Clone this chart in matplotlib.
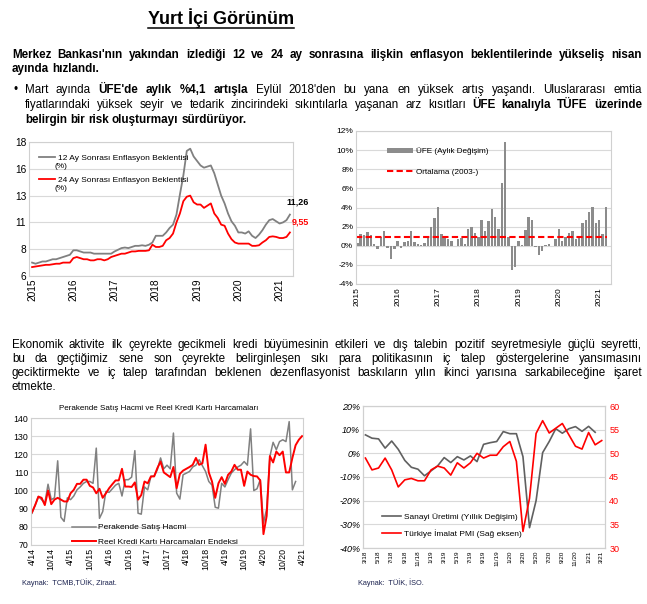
import numpy as np
import matplotlib
matplotlib.use('Agg')
import matplotlib.pyplot as plt
from matplotlib.lines import Line2D

# ---- data ----
# 12 / 24 ay sonrasi enflasyon beklentisi, Oca 2015 - Nis 2021 (aylik)
exp12 = [7.2, 7.1, 7.2, 7.3, 7.3, 7.4, 7.5, 7.5, 7.6, 7.7, 7.8, 7.9,
         8.3, 8.3, 8.2, 8.1, 8.1, 8.1, 8.0, 8.0, 8.0, 8.0, 8.0, 8.0,
         8.2, 8.35, 8.5, 8.55, 8.5, 8.6, 8.7, 8.7, 8.75, 8.7, 8.8, 9.0,
         9.6, 9.6, 9.6, 9.9, 10.3, 10.6, 11.5, 13.3, 15.0, 17.2, 17.4, 16.7,
         16.3, 15.9, 15.7, 15.8, 15.9, 15.2, 14.2, 13.2, 12.5, 11.6, 10.9, 10.5,
         9.9, 9.9, 9.8, 10.0, 9.6, 9.4, 9.7, 10.1, 10.6, 11.0, 11.1, 10.9,
         10.7, 10.8, 11.0, 11.5]
exp24 = [6.8, 6.85, 6.9, 6.95, 7.0, 7.0, 7.05, 7.1, 7.1, 7.2, 7.2, 7.2,
         7.6, 7.7, 7.6, 7.5, 7.5, 7.4, 7.4, 7.5, 7.5, 7.4, 7.5, 7.7,
         7.8, 7.9, 8.0, 8.0, 8.1, 8.2, 8.2, 8.25, 8.25, 8.25, 8.3, 8.8,
         8.6, 8.6, 8.7, 9.2, 9.4, 9.8, 10.8, 11.6, 12.7, 13.1, 13.2, 12.6,
         12.4, 12.4, 12.1, 12.3, 12.5, 11.6, 11.2, 10.6, 10.5, 9.8, 9.3, 9.0,
         8.9, 8.9, 8.9, 8.9, 8.7, 8.7, 8.75, 9.0, 9.2, 9.5, 9.55, 9.5,
         9.4, 9.4, 9.5, 9.9]
years = ['2015', '2016', '2017', '2018', '2019', '2020', '2021']
exp_ticks = ['6', '8', '11', '13', '16', '18']

# UFE aylik degisim, Oca 2015 - Mar 2021
ufe = [0.3, 1.2, 1.1, 1.4, 1.1, 0.2, -0.3, 0.9, 1.5, -0.2, -1.4, -0.3,
       0.5, -0.2, 0.4, 0.5, 1.5, 0.4, 0.2, 0.05, 0.3, 0.8, 2.0, 2.9,
       4.1, 1.2, 1.0, 0.7, 0.5, -0.05, 0.7, 0.8, 0.2, 1.7, 2.0, 1.3,
       0.9, 2.7, 1.5, 2.6, 3.8, 3.0, 1.7, 6.6, 10.9, 0.9, -2.5, -2.2,
       0.45, 0.1, 1.6, 3.0, 2.7, -0.1, -1.0, -0.6, 0.13, 0.14, -0.05, 0.7,
       1.8, 0.5, 0.9, 1.3, 1.5, 0.7, 0.85, 2.35, 2.65, 3.55, 4.1, 2.35,
       2.65, 1.2, 4.1]
ufe_avg = 0.9

# Perakende satis hacmi (Nis 2014 - Sub 2021) ve reel kredi karti (Nis 2014 - Nis 2021)
retail = [87.5, 92, 96.7, 95, 93, 103.5, 95, 96, 116.4, 85.3, 83, 96,
          95, 97, 100.4, 102, 104, 105, 105, 104, 123.4, 84.7, 88.4, 99.5,
          99, 101, 103, 104, 97, 106, 106, 107.4, 122, 87.5, 87, 102,
          100.4, 107.8, 108, 111.5, 118, 112, 114, 112, 131.7, 98.6, 95.3, 108.7,
          109.6, 110.5, 113, 114, 117, 113.7, 110.5, 105, 103, 90.8, 90.3, 104,
          102, 106, 109.6, 111.5, 113, 114, 116, 114, 134, 100, 101, 106,
          82, 90, 118.8, 126.6, 122.5, 127, 128, 127, 138, 100.4, 105]
card = [88, 92, 96.7, 96, 92, 100, 92.5, 95, 96, 95, 94, 94,
        98.5, 100.4, 103.7, 103.7, 106, 106, 102.6, 101.7, 98.5, 101, 96, 98.5,
        101.3, 103.5, 105.6, 105.6, 112, 102.2, 102.2, 102, 104.5, 95, 97.6, 105,
        104, 107.8, 107.8, 112.4, 116, 110, 108.7, 107.4, 113, 101.3, 109.2, 111,
        112, 113, 114.2, 118, 114.2, 115, 125.3, 110, 105, 96, 104, 107.4,
        103.7, 108.7, 110.5, 114.2, 111.5, 111.5, 102.6, 110.5, 108.7, 108, 107.8, 105.6,
        76, 86, 119, 115.5, 121.5, 119.5, 121.5, 110, 110, 118, 125, 128, 130]
retail_ticks = ['4/14', '10/14', '4/15', '10/15', '4/16', '10/16', '4/17', '10/17',
                '4/18', '10/18', '4/19', '10/19', '4/20', '10/20', '4/21']

# Sanayi uretimi yillik % (Mar 2018 - Sub 2021) ve imalat PMI (Mar 2018 - Mar 2021)
ip = [7.8, 6.4, 6.1, 2.2, 5.2, 1.7, -3.0, -5.9, -6.7, -9.5, -7.4, -5.3,
      -1.8, -3.9, -1.4, -2.8, -1.1, -3.5, 3.8, 4.5, 5.0, 9.2, 8.3, 8.3,
      -1.4, -31.4, -20.0, 0.3, 5.0, 10.4, 8.5, 10.4, 11.3, 9.3, 11.4, 8.9]
pmi = [49.0, 46.5, 46.9, 49.0, 46.5, 42.9, 44.4, 44.7, 44.2, 44.2, 46.5, 47.3,
       46.9, 45.4, 48.0, 46.9, 48.0, 50.0, 49.0, 49.6, 49.6, 51.4, 52.5, 48.3,
       33.5, 40.5, 54.2, 56.9, 54.3, 55.3, 56.3, 53.9, 51.5, 50.9, 54.4, 51.8, 52.7]
ip_ticks = ['3/18', '5/18', '7/18', '9/18', '11/18', '1/19', '3/19', '5/19', '7/19', '9/19',
            '11/19', '1/20', '3/20', '5/20', '7/20', '9/20', '11/20', '1/21', '3/21']

GRAY = '#808080'
RED = '#ff0000'
GRID = '#d9d9d9'

plt.rcParams['font.family'] = ['Liberation Sans', 'DejaVu Sans']
body_size = 8.4

W, H = 647, 604
fig = plt.figure(figsize=(W / 100, H / 100), dpi=100)
renderer = fig.canvas.get_renderer()


def fx(x):
    return x / W


def fy(y):
    return 1 - y / H


def box(l, t, r, b):
    return [fx(l), fy(b), (r - l) / W, (b - t) / H]


def put_line(segs, x0, x1, y, size, justify=True):
    # kelime kelime yerlestir, iki yana yasla
    ws = []
    for txt, bold in segs:
        for w in txt.split():
            ws.append((w, bold))
    arts = [fig.text(0, fy(y), w, fontsize=size,
                     fontweight='bold' if b else 'normal', va='baseline') for w, b in ws]
    widths = [a.get_window_extent(renderer).width for a in arts]
    gap = size * 100 / 72 * 0.27
    if justify and len(arts) > 1:
        gap = max((x1 - x0 - sum(widths)) / (len(arts) - 1), 1.0)
    x = x0
    for a, w in zip(arts, widths):
        a.set_x(fx(x))
        x += w + gap


def style(ax, size):
    for s in ax.spines.values():
        s.set_color('#d0d0d0')
        s.set_linewidth(0.8)
    ax.grid(axis='y', color=GRID, lw=0.8)
    ax.set_axisbelow(True)
    ax.tick_params(length=0, labelsize=size, pad=2)


# ---- text ----
t = fig.text(fx(221), fy(24.5), 'Yurt İçi Görünüm', ha='center', va='baseline',
             fontsize=13, fontweight='bold')
bb = t.get_window_extent(renderer)
fig.add_artist(Line2D([bb.x0 / W, bb.x1 / W], [fy(27.5)] * 2, color='k', lw=1.1))

put_line([("Merkez Bankası'nın yakından izlediği 12 ve 24 ay sonrasına ilişkin enflasyon beklentilerinde yükseliş nisan", True)],
         12, 642, 58, body_size)
put_line([("ayında hızlandı.", True)], 12, 642, 72, body_size, justify=False)
fig.text(fx(14), fy(93), '•', fontsize=body_size, va='baseline')
put_line([("Mart ayında", False), ("ÜFE'de aylık %4,1 artışla", True),
          ("Eylül 2018'den bu yana en yüksek artış yaşandı. Uluslararası emtia", False)],
         25, 642, 93, body_size)
put_line([("fiyatlarındaki yüksek seyir ve tedarik zincirindeki sıkıntılarla yaşanan arz kısıtları", False),
          ("ÜFE kanalıyla TÜFE üzerinde", True)], 25, 642, 108, body_size)
put_line([("belirgin bir risk oluşturmayı sürdürüyor.", True)], 25, 642, 123, body_size, justify=False)

put_line([("Ekonomik aktivite ilk çeyrekte gecikmeli kredi büyümesinin etkileri ve dış talebin pozitif seyretmesiyle güçlü seyretti,", False)],
         12, 642, 348, body_size)
put_line([("bu da geçtiğimiz sene son çeyrekte belirginleşen sıkı para politikasının iç talep göstergelerine yansımasını", False)],
         12, 642, 362, body_size)
put_line([("geciktirmekte ve iç talep tarafından beklenen dezenflasyonist baskıların yılın ikinci yarısına sarkabileceğine işaret", False)],
         12, 642, 376, body_size)
put_line([("etmekte.", False)], 12, 642, 390, body_size, justify=False)

# ---- chart 1: enflasyon beklentileri ----
ax1 = fig.add_axes(box(29, 142, 293, 276))
m1 = np.arange(len(exp12))
ax1.plot(m1, exp12, color=GRAY, lw=1.3, label='12 Ay Sonrası Enflasyon Beklentisi')
ax1.plot(m1, exp24, color=RED, lw=1.3, label='24 Ay Sonrası Enflasyon Beklentisi')
ax1.set_ylim(6, 18)
ax1.set_yticks(np.linspace(6, 18, 6))
ax1.set_yticklabels(exp_ticks)
ax1.set_xlim(-0.9, 75.9)
ax1.set_xticks(np.arange(0, 76, 12))
ax1.set_xticklabels(years, rotation=90)
style(ax1, 7.3)
ax1.legend(loc='upper left', bbox_to_anchor=(0.015, 0.955), frameon=False, fontsize=6.0,
           handlelength=2.0, handletextpad=0.3, labelspacing=1.75, borderpad=0.2)
ax1.text(0.095, 0.815, '(%)', transform=ax1.transAxes, fontsize=6.0, va='center')
ax1.text(0.095, 0.655, '(%)', transform=ax1.transAxes, fontsize=6.0, va='center')
ax1.text(77.3, 12.6, '11,26', fontsize=6.5, fontweight='bold', ha='center', va='center', clip_on=False)
ax1.text(78.0, 10.8, '9,55', fontsize=6.5, fontweight='bold', color=RED, ha='center', va='center', clip_on=False)

# ---- chart 2: UFE aylik ----
ax2 = fig.add_axes(box(356, 131, 611, 284))
m2 = np.arange(len(ufe))
ax2.bar(m2, ufe, width=0.72, color='#8c8c8c', label='ÜFE (Aylık Değişim)')
ax2.plot([-0.4, 74.4], [ufe_avg, ufe_avg], color=RED, lw=1.5, ls=(0, (3, 1.6)),
         label='Ortalama (2003-)')
ax2.set_ylim(-4, 12)
ax2.set_yticks(np.arange(-4, 13, 2))
ax2.set_yticklabels(['%d%%' % v for v in range(-4, 13, 2)])
ax2.set_xlim(-0.4, 75.5)
ax2.set_xticks(np.arange(0, 75, 12))
ax2.set_xticklabels(years, rotation=90)
style(ax2, 6)
h, l = ax2.get_legend_handles_labels()
ax2.legend(h[::-1], l[::-1], loc='upper left', bbox_to_anchor=(0.1, 0.93), frameon=False,
           fontsize=5.9, handlelength=3.2, handleheight=0.5, handletextpad=0.3,
           labelspacing=1.6, borderpad=0.2)

# ---- chart 3: perakende / kredi karti ----
ax3 = fig.add_axes(box(31, 418, 303, 545))
ax3.plot(np.arange(len(retail)), retail, color=GRAY, lw=1.1, label='Perakende Satış Hacmi')
ax3.plot(np.arange(len(card)), card, color=RED, lw=1.4, label='Reel Kredi Kartı Harcamaları Endeksi')
ax3.set_ylim(70, 140)
ax3.set_yticks(np.arange(70, 141, 10))
ax3.set_xlim(-0.3, 84.3)
ax3.set_xticks(np.arange(0, 85, 6))
ax3.set_xticklabels(retail_ticks, rotation=90)
style(ax3, 6.3)
ax3.legend(loc='lower left', bbox_to_anchor=(0.13, -0.05), frameon=False, fontsize=6,
           handlelength=2.9, handletextpad=0.2, labelspacing=0.75, borderpad=0.2)
fig.text(fx(159), fy(409), 'Perakende Satış Hacmi ve Reel Kredi Kartı Harcamaları',
         ha='center', va='center', fontsize=5.8)
fig.text(fx(22), fy(583), 'Kaynak:  TCMB,TÜİK, Ziraat.', fontsize=5.3, color='#1c2350', va='center')

# ---- chart 4: sanayi uretimi / PMI ----
ax4 = fig.add_axes(box(363, 406, 605, 548))
ax4.plot(np.arange(len(ip)), ip, color='#606060', lw=1.2, label='Sanayi Üretimi (Yıllık Değişim)')
ax4.set_ylim(-40, 20)
ax4.set_yticks(np.arange(-40, 21, 10))
ax4.set_yticklabels(['%d%%' % v for v in range(-40, 21, 10)], style='italic')
ax4.set_xlim(-0.37, 36.5)
ax4.set_xticks(np.arange(0, 37, 2))
ax4.set_xticklabels(ip_ticks, rotation=90)
style(ax4, 6.5)
ax4.tick_params(axis='x', labelsize=4.6)
ax4b = ax4.twinx()
ax4b.plot(np.arange(len(pmi)), pmi, color=RED, lw=1.2, label='Türkiye İmalat PMI (Sağ eksen)')
ax4b.set_ylim(30, 60)
ax4b.set_yticks(np.arange(30, 61, 5))
ax4b.tick_params(length=0, labelsize=6.5, colors=RED, pad=3)
for s in ax4b.spines.values():
    s.set_color('#d0d0d0')
    s.set_linewidth(0.8)
h1, l1 = ax4.get_legend_handles_labels()
h2, l2 = ax4b.get_legend_handles_labels()
ax4b.legend(h1 + h2, l1 + l2, loc='lower left', bbox_to_anchor=(0.055, 0.03), frameon=False,
            fontsize=6, handlelength=2.3, handletextpad=0.3, labelspacing=1.0, borderpad=0.2)
fig.text(fx(358), fy(583), 'Kaynak:  TÜİK, İSO.', fontsize=5.3, color='#1c2350', va='center')

fig.savefig('out.png', dpi=100)
